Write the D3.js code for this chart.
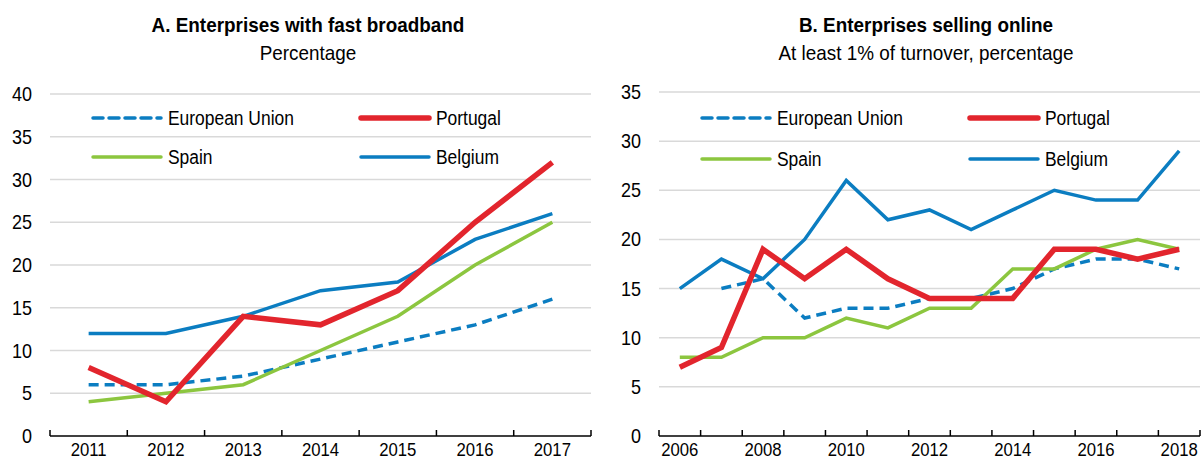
<!DOCTYPE html>
<html>
<head>
<meta charset="utf-8">
<script src="https://cdn.jsdelivr.net/npm/d3@7"></script>
<style>
  body { margin: 0; background: #fff; }
  svg { display: block; }
  text { font-family: "Liberation Sans", Arial, sans-serif; fill: #000; }
</style>
</head>
<body>
<div id="chart"></div>
<script>
// Panel A: enterprises with fast broadband (%)
var yearsA = [2011, 2012, 2013, 2014, 2015, 2016, 2017];
var euA       = [6, 6, 7, 9, 11, 13, 16];
var portugalA = [8, 4, 14, 13, 17, 25, 32];
var spainA    = [4, 5, 6, 10, 14, 20, 25];
var belgiumA  = [12, 12, 14, 17, 18, 23, 26];
var yTicksA = [0, 5, 10, 15, 20, 25, 30, 35, 40];

// Panel B: enterprises selling online (at least 1% of turnover, %)
var yearsB = [2006, 2007, 2008, 2009, 2010, 2011, 2012, 2013, 2014, 2015, 2016, 2017, 2018];
var euB       = [null, 15, 16, 12, 13, 13, 14, 14, 15, 17, 18, 18, 17];
var portugalB = [7, 9, 19, 16, 19, 16, 14, 14, 14, 19, 19, 18, 19];
var spainB    = [8, 8, 10, 10, 12, 11, 13, 13, 17, 17, 19, 20, 19];
var belgiumB  = [15, 18, 16, 20, 26, 22, 23, 21, 23, 25, 24, 24, 29];
var yTicksB = [0, 5, 10, 15, 20, 25, 30, 35];
var xLabelsB = [2006, 2008, 2010, 2012, 2014, 2016, 2018];

var blue = "#0b7dc1", red = "#e2252d", green = "#8cc63f";
var styles = {
    "European Union": { color: blue, width: 3.5, dash: "10,6" },
    "Portugal": { color: red, width: 5.5, dash: null },
    "Spain": { color: green, width: 3.5, dash: null },
    "Belgium": { color: blue, width: 3.5, dash: null }
};

var svg = d3.select("#chart").append("svg")
    .attr("width", 1201)
    .attr("height", 462);

// the original uses a condensed Arial; squeeze text horizontally to match
function placeText(sel, fx, fy, k) {
    return sel.attr("transform", (d, i) => `translate(${fx(d, i)},${fy(d, i)}) scale(${k},1)`);
}

function drawPanel(opts) {
    var g = svg.append("g");

    var x = d3.scaleBand()
        .domain(opts.years)
        .range([opts.left, opts.right])
        .padding(0);

    var y = d3.scaleLinear()
        .domain([0, d3.max(opts.yTicks)])
        .range([opts.bottom, opts.top]);

    // titles
    g.append("text")
        .attr("transform", `translate(${opts.titleX},32) scale(0.9,1)`)
        .attr("text-anchor", "middle")
        .style("font-size", "21px")
        .style("font-weight", "bold")
        .text(opts.title);
    g.append("text")
        .attr("transform", `translate(${opts.titleX},60) scale(0.9,1)`)
        .attr("text-anchor", "middle")
        .style("font-size", "21px")
        .text(opts.subtitle);

    // gridlines
    g.selectAll(".grid")
        .data(opts.yTicks.filter(d => d > 0))
        .enter().append("line")
        .attr("x1", opts.left)
        .attr("x2", opts.right)
        .attr("y1", d => y(d))
        .attr("y2", d => y(d))
        .attr("stroke", "#d9d9d9")
        .attr("stroke-width", 1.5);

    // y labels
    placeText(g.selectAll(".ylab")
        .data(opts.yTicks)
        .enter().append("text"),
        d => opts.left - 18, d => y(d), 0.9)
        .attr("dy", "0.35em")
        .attr("text-anchor", "end")
        .style("font-size", "20px")
        .text(d => d);

    // x axis line and ticks at band edges
    g.append("line")
        .attr("x1", opts.left)
        .attr("x2", opts.right)
        .attr("y1", opts.bottom)
        .attr("y2", opts.bottom)
        .attr("stroke", "#000")
        .attr("stroke-width", 1.5);
    var edges = opts.years.map(d => x(d)).concat([opts.right]);
    g.selectAll(".xtick")
        .data(edges)
        .enter().append("line")
        .attr("x1", d => d)
        .attr("x2", d => d)
        .attr("y1", opts.bottom)
        .attr("y2", opts.bottom - 6)
        .attr("stroke", "#000")
        .attr("stroke-width", 1.5);

    placeText(g.selectAll(".xlab")
        .data(opts.xLabels)
        .enter().append("text"),
        d => x(d) + x.bandwidth() / 2, d => opts.bottom + 20, 0.88)
        .attr("text-anchor", "middle")
        .style("font-size", "19px")
        .text(d => d);

    // lines (draw order: EU, Spain, Belgium, Portugal)
    var line = d3.line()
        .defined(d => d.v != null)
        .x(d => x(d.year) + x.bandwidth() / 2)
        .y(d => y(d.v));

    ["European Union", "Spain", "Belgium", "Portugal"].forEach(function (name) {
        var vals = opts.data[name];
        var pts = opts.years.map((yr, i) => ({ year: yr, v: vals[i] }));
        var s = styles[name];
        g.append("path")
            .datum(pts)
            .attr("d", line)
            .attr("fill", "none")
            .attr("stroke", s.color)
            .attr("stroke-width", s.width)
            .attr("stroke-dasharray", s.dash)
            .attr("stroke-linejoin", "miter");
    });

    // legend
    var legPos = [
        { name: "European Union", x: opts.legX1, y: opts.legY1 },
        { name: "Portugal", x: opts.legX2, y: opts.legY1 },
        { name: "Spain", x: opts.legX1, y: opts.legY2 },
        { name: "Belgium", x: opts.legX2, y: opts.legY2 }
    ];
    legPos.forEach(function (p) {
        var s = styles[p.name];
        g.append("line")
            .attr("x1", p.x)
            .attr("x2", p.x + 68)
            .attr("y1", p.y)
            .attr("y2", p.y)
            .attr("stroke", s.color)
            .attr("stroke-width", s.width)
            .attr("stroke-dasharray", s.dash)
            .attr("stroke-linecap", "round");
        g.append("text")
            .attr("transform", `translate(${p.x + 75},${p.y}) scale(0.83,1)`)
            .attr("dy", "0.35em")
            .style("font-size", "21px")
            .text(p.name);
    });
}

drawPanel({
    years: yearsA,
    xLabels: yearsA,
    yTicks: yTicksA,
    left: 50, right: 591, top: 94, bottom: 436,
    titleX: 308,
    title: "A. Enterprises with fast broadband",
    subtitle: "Percentage",
    legX1: 93, legX2: 361, legY1: 118, legY2: 157,
    data: { "European Union": euA, "Portugal": portugalA, "Spain": spainA, "Belgium": belgiumA }
});

drawPanel({
    years: yearsB,
    xLabels: xLabelsB,
    yTicks: yTicksB,
    left: 659, right: 1200, top: 92, bottom: 436,
    titleX: 926,
    title: "B. Enterprises selling online",
    subtitle: "At least 1% of turnover, percentage",
    legX1: 702, legX2: 970, legY1: 118, legY2: 159,
    data: { "European Union": euB, "Portugal": portugalB, "Spain": spainB, "Belgium": belgiumB }
});
</script>
</body>
</html>
